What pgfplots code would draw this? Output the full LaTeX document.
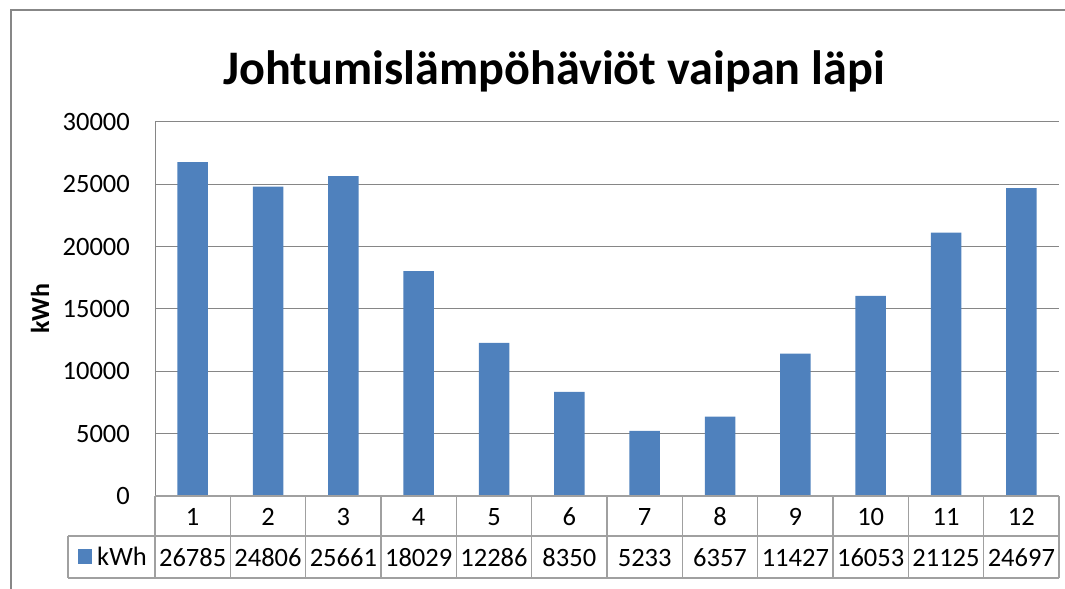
\documentclass[border=0pt]{standalone}
\usepackage{pgfplots}
\pgfplotsset{compat=1.18}
\usepackage{fontspec}
\setmainfont{Carlito}
\definecolor{barblue}{HTML}{4F81BD}
\definecolor{gridgray}{HTML}{868686}
\definecolor{tablegray}{HTML}{A0A0A0}
\definecolor{framegray}{HTML}{878787}
\newcommand{\cell}[2]{\strut #1\\\strut #2}
\begin{document}
\begin{tikzpicture}[x=1bp,y=1bp]
\useasboundingbox (0,0) rectangle (1065,589);
\draw[framegray, line width=2.2bp] (11,-2) -- (11,579) -- (1067,579);
\node[font=\fontsize{48.2bp}{58bp}\selectfont\bfseries, anchor=base, inner sep=0pt] at (554,504) {Johtumislämpöhäviöt vaipan läpi};
\begin{axis}[at={(155bp,93bp)}, anchor=south west, width=904bp, height=374bp, scale only axis,
  xmin=0.5, xmax=12.5, ymin=0, ymax=30000, ytick={0,5000,...,30000},
  scaled y ticks=false,
  ybar, bar width=30.5bp,
  axis line style={draw=none},
  tick style={draw=none},
  ymajorgrids, major grid style={gridgray, line width=1bp},
  xtick={1,...,12},
  xticklabels={{\cell{1}{26785}},{\cell{2}{24806}},{\cell{3}{25661}},{\cell{4}{18029}},{\cell{5}{12286}},{\cell{6}{8350}},{\cell{7}{5233}},{\cell{8}{6357}},{\cell{9}{11427}},{\cell{10}{16053}},{\cell{11}{21125}},{\cell{12}{24697}}},
  xticklabel style={font=\fontsize{26.5bp}{40.5bp}\selectfont, align=center, anchor=north, inner sep=0pt, yshift=3bp},
  yticklabel style={font=\fontsize{26.5bp}{30bp}\selectfont, anchor=east, inner sep=0pt, xshift=-25bp},
  ylabel={kWh},
  ylabel style={font=\fontsize{26bp}{30bp}\selectfont\bfseries, at={(axis description cs:-0.1272,0.5)}, anchor=center},
  /pgf/number format/1000 sep={},
  /pgf/number format/assume math mode=true,
  clip=false]
\addplot[fill=barblue, draw=none] coordinates {(1,26785) (2,24806) (3,25661) (4,18029) (5,12286) (6,8350) (7,5233) (8,6357) (9,11427) (10,16053) (11,21125) (12,24697)};
\end{axis}
\draw[gridgray, line width=1bp] (155,467) -- (155,93);
\begin{scope}[tablegray, line width=1.3bp]
\draw (155,93) -- (1059,93);
\draw (68,53) -- (1059,53);
\draw (68,11) -- (1059,11);
\draw (68,53) -- (68,11);
\foreach \k in {0,...,12} \draw (155+75.333*\k,93) -- (155+75.333*\k,11);
\end{scope}
\fill[barblue] (78,25) rectangle (92,40);
\node[anchor=base west, inner sep=0pt, font=\fontsize{26.5bp}{30bp}\selectfont] at (97,23) {kWh};
\end{tikzpicture}
\end{document}
